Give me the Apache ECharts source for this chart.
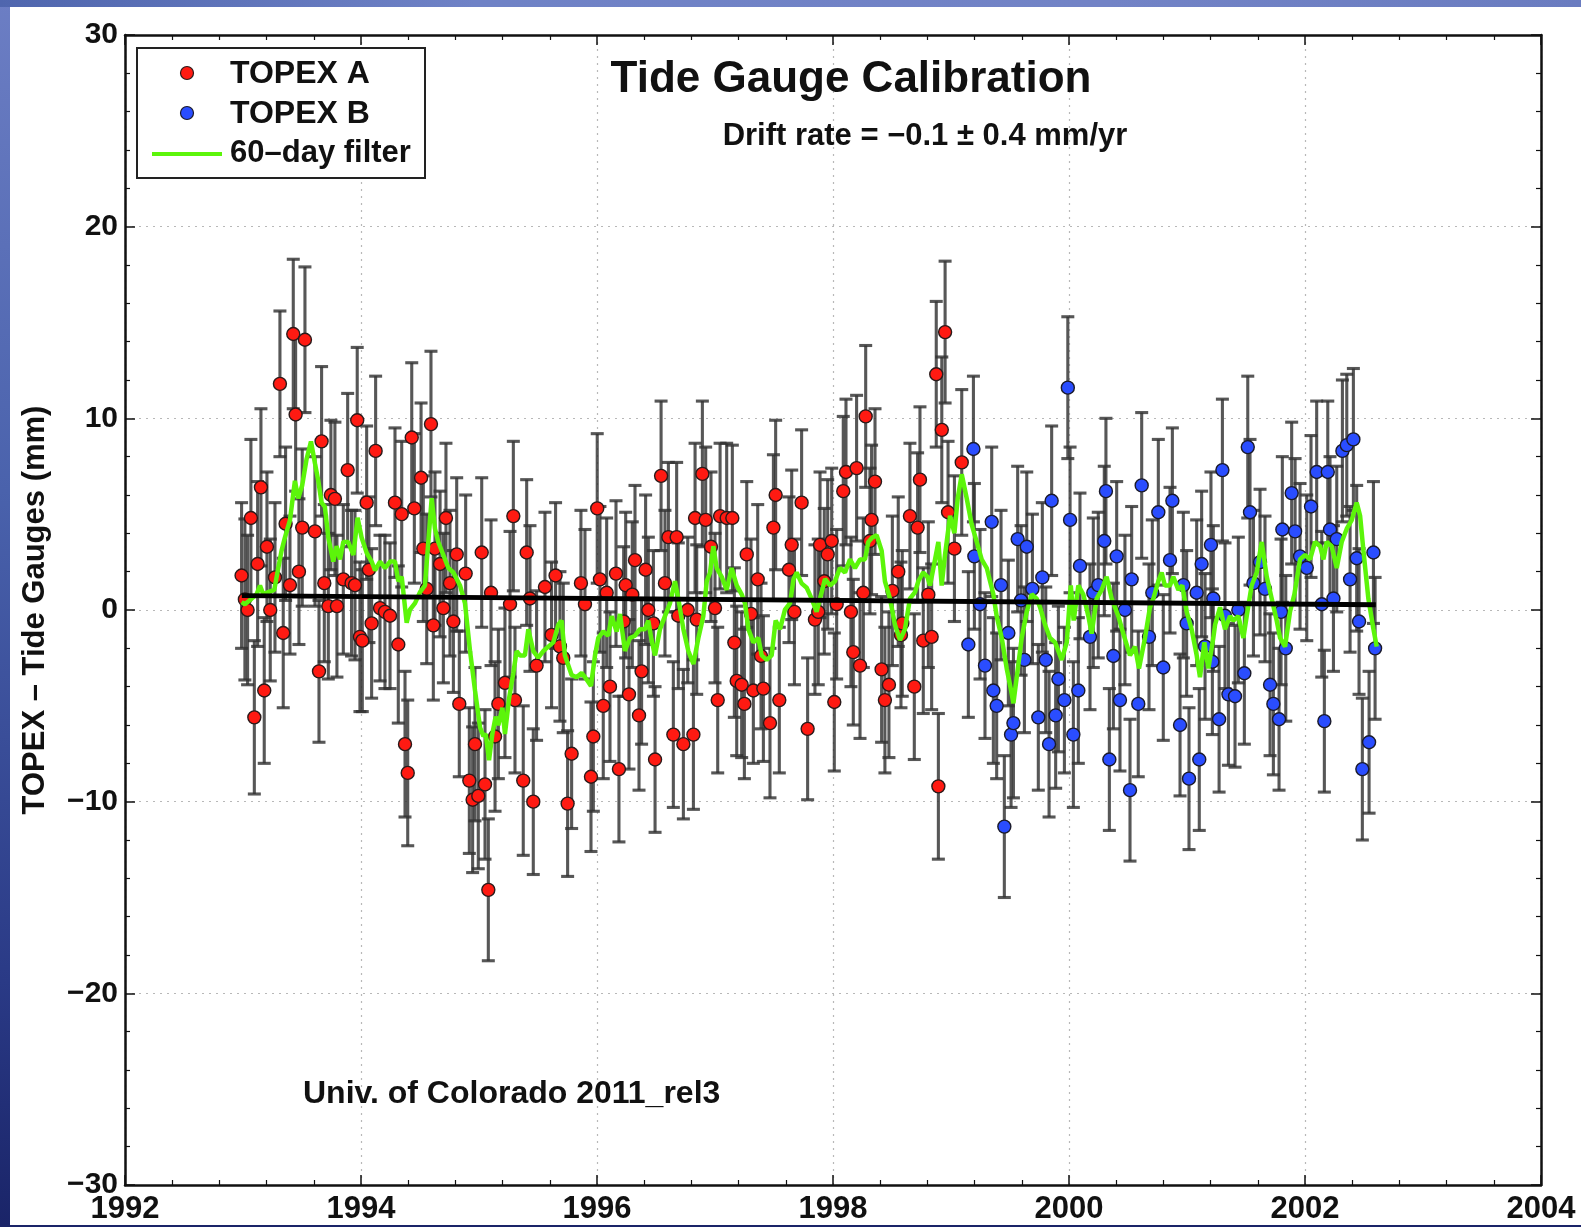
<!DOCTYPE html>
<html>
<head>
<meta charset="utf-8">
<title>Tide Gauge Calibration</title>
<script src="https://cdn.jsdelivr.net/npm/echarts@6/dist/echarts.min.js"></script>
<style>
  html, body { margin: 0; padding: 0; width: 1581px; height: 1227px; overflow: hidden; }
  body {
    background: linear-gradient(180deg, #6c7ec4 0%, #4a62ac 40%, #2a3a86 80%, #1a2468 100%);
  }
  #frameTop {
    position: absolute; left: 0; top: 0; width: 1581px; height: 7px;
    background: linear-gradient(90deg, #4f66ae 0%, #6f82c6 30%, #7283c6 70%, #6a7cc0 100%);
  }
  #chart {
    position: absolute; left: 10px; top: 7px; width: 1571px; height: 1218px;
    background: #ffffff;
  }
</style>
</head>
<body>
<div id="frameTop"></div>
<div id="chart"></div>
<script>
// Axis ticks
const yearTicks = [1992, 1994, 1996, 1998, 2000, 2002, 2004];
const mmTicks = [-30, -20, -10, 0, 10, 20, 30];

// TOPEX side A cycles: [decimal year, TOPEX - tide gauge (mm), 1-sigma (mm)]
const topexA = [
  [1992.988,1.8,3.8],[1993.016,0.55,4.2],[1993.039,0.0,3.9],[1993.067,4.8,4.1],[1993.096,-5.6,4.0],
  [1993.124,2.4,4.3],[1993.152,6.4,4.1],[1993.180,-4.2,3.8],[1993.203,3.3,3.9],[1993.231,0.0,3.7],
  [1993.271,1.7,3.9],[1993.313,11.8,3.8],[1993.341,-1.2,3.9],[1993.361,4.5,4.0],[1993.398,1.3,3.6],
  [1993.426,14.4,3.9],[1993.446,10.2,4.0],[1993.474,2.0,3.8],[1993.502,4.3,4.1],[1993.525,14.1,3.8],
  [1993.610,4.1,3.9],[1993.644,-3.2,3.7],[1993.666,8.8,3.9],[1993.689,1.4,4.1],[1993.723,0.2,3.8],
  [1993.745,6.0,3.9],[1993.779,5.8,4.0],[1993.796,0.2,3.7],[1993.850,1.6,3.9],[1993.887,7.3,4.0],
  [1993.920,1.4,3.8],[1993.949,1.3,3.9],[1993.968,9.9,3.8],[1993.991,-1.4,3.9],[1994.011,-1.6,3.7],
  [1994.048,5.6,4.0],[1994.067,2.1,3.8],[1994.090,-0.7,3.9],[1994.124,8.3,3.9],[1994.161,0.1,3.8],
  [1994.203,-0.1,4.0],[1994.246,-0.3,3.8],[1994.288,5.6,3.9],[1994.316,-1.8,4.1],[1994.345,5.0,3.8],
  [1994.373,-7.0,3.8],[1994.396,-8.5,3.8],[1994.430,9.0,3.9],[1994.452,5.3,3.9],[1994.509,6.9,3.9],
  [1994.528,3.2,3.8],[1994.557,1.1,3.9],[1994.593,9.7,3.8],[1994.613,-0.8,3.9],[1994.627,3.2,4.0],
  [1994.670,2.4,3.8],[1994.698,0.1,3.9],[1994.720,4.8,3.9],[1994.754,1.4,3.8],[1994.783,-0.6,3.7],
  [1994.811,2.9,4.0],[1994.833,-4.9,3.8],[1994.887,1.9,4.1],[1994.918,-8.9,3.8],[1994.946,-9.9,3.8],
  [1994.966,-7.0,4.0],[1994.994,-9.7,3.8],[1995.023,3.0,3.9],[1995.051,-9.1,3.9],[1995.079,-14.6,3.7],
  [1995.102,0.9,3.8],[1995.136,-6.6,3.9],[1995.164,-4.9,3.9],[1995.220,-3.8,3.9],[1995.263,0.3,3.8],
  [1995.291,4.9,3.9],[1995.305,-4.7,3.8],[1995.375,-8.9,3.9],[1995.404,3.0,3.8],[1995.432,0.6,3.8],
  [1995.460,-10.0,3.8],[1995.488,-2.9,3.9],[1995.559,1.2,3.9],[1995.615,-1.3,3.8],[1995.649,1.8,3.8],
  [1995.686,-1.9,3.9],[1995.714,-2.5,3.9],[1995.751,-10.1,3.8],[1995.785,-7.5,3.9],[1995.864,1.4,3.8],
  [1995.898,0.3,3.9],[1995.949,-8.7,3.9],[1995.969,-6.6,3.9],[1996.002,5.3,3.9],[1996.025,1.6,3.8],
  [1996.053,-5.0,3.8],[1996.082,0.9,3.9],[1996.110,-4.0,3.9],[1996.161,1.9,3.8],[1996.186,-8.3,3.8],
  [1996.226,-0.6,3.9],[1996.243,1.3,3.8],[1996.271,-4.4,3.9],[1996.299,0.8,3.8],[1996.322,2.6,3.9],
  [1996.356,-5.5,3.9],[1996.378,-3.2,3.8],[1996.412,2.1,3.9],[1996.435,0.0,3.8],[1996.478,-0.7,3.8],
  [1996.492,-7.8,3.8],[1996.543,7.0,3.9],[1996.576,1.4,3.8],[1996.605,3.8,3.9],[1996.647,-6.5,3.8],
  [1996.675,3.8,3.9],[1996.689,-0.3,3.8],[1996.732,-7.0,3.9],[1996.769,0.0,3.8],[1996.817,-6.5,3.9],
  [1996.831,4.8,3.9],[1996.845,-0.5,3.9],[1996.893,7.1,3.8],[1996.921,4.7,3.8],[1996.966,3.3,3.9],
  [1997.000,0.1,3.9],[1997.023,-4.7,3.8],[1997.043,4.9,3.8],[1997.099,4.8,3.9],[1997.147,4.8,3.8],
  [1997.164,-1.7,3.9],[1997.184,-3.7,3.9],[1997.226,-3.9,3.8],[1997.249,-4.9,3.9],[1997.269,2.9,3.8],
  [1997.305,-0.2,3.9],[1997.325,-4.2,3.8],[1997.362,1.6,3.9],[1997.390,-2.4,3.8],[1997.410,-4.1,3.8],
  [1997.466,-5.9,3.9],[1997.495,4.3,3.8],[1997.514,6.0,3.9],[1997.545,-4.7,3.8],[1997.627,2.1,3.8],
  [1997.650,3.4,3.9],[1997.673,-0.1,3.8],[1997.734,5.6,3.8],[1997.785,-6.2,3.7],[1997.847,-0.5,3.9],
  [1997.875,-0.1,3.8],[1997.890,3.4,3.8],[1997.926,1.5,3.8],[1997.955,2.9,3.9],[1997.989,3.6,3.8],
  [1998.011,-4.8,3.6],[1998.031,0.3,3.9],[1998.087,6.2,3.9],[1998.110,7.2,3.8],[1998.152,-0.1,3.9],
  [1998.172,-2.2,3.8],[1998.200,7.4,3.8],[1998.229,-2.9,3.8],[1998.257,0.9,3.9],[1998.277,10.1,3.7],
  [1998.313,3.6,3.8],[1998.327,4.7,3.9],[1998.356,6.7,3.8],[1998.412,-3.1,3.8],[1998.440,-4.7,3.8],
  [1998.474,-3.9,3.8],[1998.503,1.0,3.9],[1998.553,2.0,3.9],[1998.576,-1.3,3.8],[1998.587,-0.7,3.8],
  [1998.652,4.9,3.8],[1998.689,-4.0,3.8],[1998.717,4.3,3.9],[1998.737,6.8,3.8],[1998.765,-1.6,3.8],
  [1998.808,0.8,3.8],[1998.836,-1.4,3.8],[1998.875,12.3,3.8],[1998.893,-9.2,3.8],[1998.922,9.4,3.8],
  [1998.950,14.5,3.7],[1998.975,5.1,3.7],[1999.029,3.2,3.8],[1999.091,7.7,3.8]
];

// TOPEX side B cycles: [decimal year, TOPEX - tide gauge (mm), 1-sigma (mm)]
const topexB = [
  [1999.147,-1.8,3.8],[1999.190,8.4,3.8],[1999.198,2.8,3.8],[1999.246,0.3,3.9],[1999.288,-2.9,3.8],
  [1999.345,4.6,3.9],[1999.359,-4.2,3.8],[1999.387,-5.0,3.8],[1999.424,1.3,3.9],[1999.452,-11.3,3.7],
  [1999.486,-1.2,3.8],[1999.509,-6.5,3.8],[1999.529,-5.9,3.9],[1999.565,3.7,3.8],[1999.594,0.5,3.9],
  [1999.622,-2.6,3.8],[1999.642,3.3,3.9],[1999.690,1.1,3.9],[1999.740,-5.6,3.8],[1999.774,1.7,3.9],
  [1999.803,-2.6,3.8],[1999.831,-7.0,3.8],[1999.853,5.7,3.9],[1999.887,-5.5,3.8],[1999.910,-3.6,3.8],
  [1999.961,-4.7,3.8],[1999.990,11.6,3.7],[2000.009,4.7,3.8],[2000.037,-6.5,3.8],[2000.079,-4.2,3.8],
  [2000.093,2.3,3.8],[2000.178,-1.4,3.8],[2000.206,0.9,3.9],[2000.248,1.3,3.8],[2000.299,3.6,3.9],
  [2000.313,6.2,3.8],[2000.342,-7.8,3.7],[2000.376,-2.4,3.8],[2000.404,2.8,3.9],[2000.432,-4.7,3.7],
  [2000.474,0.0,3.9],[2000.517,-9.4,3.7],[2000.531,1.6,3.8],[2000.587,-4.9,3.8],[2000.616,6.5,3.8],
  [2000.678,-1.4,3.8],[2000.706,0.9,3.8],[2000.757,5.1,3.8],[2000.799,-3.0,3.8],[2000.856,2.6,3.8],
  [2000.876,5.7,3.8],[2000.941,-6.0,3.7],[2000.969,1.3,3.8],[2000.997,-0.7,3.8],[2001.017,-8.8,3.7],
  [2001.082,0.9,3.8],[2001.104,-7.8,3.7],[2001.124,2.4,3.8],[2001.153,-1.9,3.8],[2001.203,3.4,3.8],
  [2001.215,-2.7,3.8],[2001.223,0.6,3.8],[2001.272,-5.7,3.8],[2001.300,7.3,3.7],[2001.322,-0.3,3.8],
  [2001.351,-4.4,3.7],[2001.407,-4.5,3.7],[2001.435,0.0,3.8],[2001.486,-3.3,3.7],[2001.515,8.5,3.7],
  [2001.534,5.1,3.8],[2001.563,1.4,3.8],[2001.619,2.5,3.8],[2001.661,1.1,3.8],[2001.704,-3.9,3.7],
  [2001.732,-4.9,3.7],[2001.780,-5.7,3.7],[2001.797,-0.1,3.8],[2001.808,4.2,3.8],[2001.837,-2.0,3.8],
  [2001.887,6.1,3.7],[2001.916,4.1,3.8],[2001.958,2.8,3.8],[2002.015,2.2,3.8],[2002.051,5.4,3.7],
  [2002.099,7.2,3.7],[2002.142,0.3,3.8],[2002.164,-5.8,3.7],[2002.193,7.2,3.7],[2002.212,4.2,3.8],
  [2002.241,0.6,3.8],[2002.269,3.7,3.8],[2002.317,8.3,3.7],[2002.354,8.6,3.7],[2002.382,1.6,3.8],
  [2002.410,8.9,3.7],[2002.438,2.7,3.8],[2002.458,-0.6,3.8],[2002.486,-8.3,3.7],[2002.543,-6.9,3.7],
  [2002.580,3.0,3.7],[2002.594,-2.0,3.7]
];

// 60-day running filter: [decimal year, mm]
const filter60 = [
  [1992.988,0.41],[1993.016,0.30],[1993.073,0.59],[1993.115,0.82],[1993.144,1.28],[1993.172,0.82],
  [1993.214,0.93],[1993.265,1.05],[1993.299,2.19],[1993.327,3.10],[1993.355,3.78],[1993.398,4.69],
  [1993.440,6.74],[1993.468,5.83],[1993.502,6.51],[1993.539,7.88],[1993.576,8.79],[1993.610,7.65],
  [1993.638,6.74],[1993.666,5.60],[1993.694,5.38],[1993.723,3.78],[1993.765,2.53],[1993.793,3.33],
  [1993.822,2.64],[1993.850,3.55],[1993.892,3.55],[1993.935,2.87],[1993.971,4.81],[1994.005,3.78],
  [1994.048,2.98],[1994.090,2.53],[1994.119,2.07],[1994.161,2.53],[1994.203,2.19],[1994.246,2.53],
  [1994.288,2.53],[1994.316,1.50],[1994.345,1.73],[1994.387,-0.66],[1994.415,0.02],[1994.458,0.36],
  [1994.500,0.93],[1994.542,1.28],[1994.599,5.83],[1994.627,4.24],[1994.655,3.55],[1994.698,2.87],
  [1994.740,2.19],[1994.783,1.96],[1994.839,1.28],[1994.881,0.36],[1994.924,-2.14],[1994.966,-4.19],
  [1995.009,-6.13],[1995.037,-6.58],[1995.057,-6.47],[1995.085,-7.84],[1995.113,-6.47],[1995.141,-5.56],
  [1995.164,-6.01],[1995.198,-5.10],[1995.220,-6.47],[1995.254,-4.65],[1995.291,-3.28],[1995.319,-2.14],
  [1995.347,-2.37],[1995.389,-2.37],[1995.418,-1.00],[1995.460,-2.14],[1995.502,-2.48],[1995.545,-2.14],
  [1995.587,-1.91],[1995.630,-1.69],[1995.672,-0.77],[1995.700,-0.55],[1995.728,-2.37],[1995.785,-3.39],
  [1995.827,-3.51],[1995.870,-3.28],[1995.912,-3.62],[1995.949,-3.96],[1995.983,-2.37],[1996.011,-1.46],
  [1996.053,-1.12],[1996.096,-1.34],[1996.124,-0.32],[1996.166,-1.12],[1996.195,-0.21],[1996.237,-2.14],
  [1996.279,-1.46],[1996.322,-1.34],[1996.364,-1.00],[1996.407,-1.00],[1996.435,-0.55],[1996.460,-1.50],
  [1996.492,-2.37],[1996.534,-1.00],[1996.576,-0.32],[1996.619,0.36],[1996.661,1.50],[1996.689,0.59],
  [1996.732,-1.00],[1996.774,-2.14],[1996.817,-2.82],[1996.859,-1.46],[1996.901,-0.32],[1996.930,1.50],
  [1996.958,1.96],[1996.986,3.33],[1997.014,2.19],[1997.057,1.73],[1997.099,1.05],[1997.141,2.19],
  [1997.184,1.28],[1997.226,0.82],[1997.254,0.36],[1997.283,-1.00],[1997.325,-1.69],[1997.367,-1.46],
  [1997.396,-2.37],[1997.438,-2.60],[1997.480,-2.37],[1997.514,-0.55],[1997.551,-1.00],[1997.593,0.02],
  [1997.636,0.36],[1997.665,1.60],[1997.692,1.96],[1997.734,1.39],[1997.777,1.16],[1997.819,0.59],
  [1997.861,-0.09],[1997.904,0.93],[1997.932,1.62],[1997.974,1.28],[1998.017,1.50],[1998.059,2.19],
  [1998.102,1.96],[1998.144,2.64],[1998.186,2.19],[1998.229,2.64],[1998.271,2.64],[1998.299,3.55],
  [1998.333,3.78],[1998.370,3.90],[1998.412,3.10],[1998.440,1.50],[1998.483,0.59],[1998.525,-0.77],
  [1998.568,-1.57],[1998.610,-1.00],[1998.652,0.59],[1998.695,0.93],[1998.723,1.50],[1998.765,1.96],
  [1998.800,1.73],[1998.822,1.28],[1998.851,2.19],[1998.893,3.55],[1998.921,1.28],[1998.949,2.87],
  [1998.992,4.92],[1999.029,4.01],[1999.057,5.83],[1999.091,7.08],[1999.133,5.83],[1999.175,4.47],
  [1999.218,3.55],[1999.260,2.64],[1999.303,2.19],[1999.331,1.50],[1999.359,0.82],[1999.387,-0.32],
  [1999.430,-1.46],[1999.472,-3.05],[1999.509,-4.19],[1999.529,-4.87],[1999.557,-3.51],[1999.599,-1.46],
  [1999.642,-0.09],[1999.684,0.82],[1999.726,0.59],[1999.755,0.14],[1999.797,-0.77],[1999.839,-1.46],
  [1999.882,-1.69],[1999.938,-2.60],[1999.981,-1.69],[2000.015,1.28],[2000.040,-0.55],[2000.079,1.28],
  [2000.121,0.82],[2000.164,-0.32],[2000.192,-1.23],[2000.234,0.59],[2000.277,1.05],[2000.319,1.73],
  [2000.362,0.59],[2000.418,-0.32],[2000.460,-1.23],[2000.517,-2.37],[2000.559,-1.91],[2000.593,-3.05],
  [2000.644,-1.46],[2000.686,0.14],[2000.715,0.59],[2000.757,1.50],[2000.785,1.96],[2000.813,1.28],
  [2000.856,1.28],[2000.884,1.73],[2000.927,1.05],[2000.960,1.28],[2000.997,-0.09],[2001.039,-1.00],
  [2001.082,-2.37],[2001.110,-3.51],[2001.147,-1.69],[2001.181,-3.05],[2001.223,-1.46],[2001.238,-0.77],
  [2001.280,0.14],[2001.322,-1.00],[2001.365,-0.32],[2001.393,-0.55],[2001.435,-0.32],[2001.478,-1.46],
  [2001.506,-0.32],[2001.548,1.28],[2001.591,1.96],[2001.633,3.55],[2001.676,1.73],[2001.718,0.59],
  [2001.760,-0.55],[2001.789,-1.46],[2001.831,-1.91],[2001.873,-0.09],[2001.910,0.82],[2001.958,2.64],
  [2002.000,2.87],[2002.043,2.64],[2002.085,3.55],[2002.128,3.33],[2002.156,2.64],[2002.184,3.55],
  [2002.226,3.33],[2002.269,2.19],[2002.311,3.55],[2002.354,4.24],[2002.396,4.69],[2002.438,5.60],
  [2002.467,4.92],[2002.495,3.10],[2002.537,0.59],[2002.580,-1.00],[2002.608,-1.91]
];

// Least-squares drift line end points: [decimal year, mm]
const driftLine = [[1992.99, 0.75], [2002.60, 0.28]];

const FONT = '"Liberation Sans", Arial, Helvetica, sans-serif';
const INK = '#111111';
const minus = v => String(v).replace('-', '\u2212');

const chart = echarts.init(document.getElementById('chart'), null, { renderer: 'canvas' });

// Vertical error bar with caps, placed through the axes
function errorBar(params, api) {
  const x = api.value(0), y = api.value(1), e = api.value(2);
  const top = api.coord([x, y + e]);
  const bot = api.coord([x, y - e]);
  const hw = 6.5;
  const style = { stroke: 'rgba(50,50,50,0.82)', lineWidth: 3.1 };
  return {
    type: 'group',
    children: [
      { type: 'line', shape: { x1: top[0], y1: top[1], x2: bot[0], y2: bot[1] }, style },
      { type: 'line', shape: { x1: top[0] - hw, y1: top[1], x2: top[0] + hw, y2: top[1] }, style },
      { type: 'line', shape: { x1: bot[0] - hw, y1: bot[1], x2: bot[0] + hw, y2: bot[1] }, style }
    ]
  };
}

const axisCommon = {
  axisLine: { show: true, onZero: false, lineStyle: { color: INK, width: 2.5 } },
  axisTick: { show: true, inside: true, length: 10, lineStyle: { color: INK, width: 1.5 } },
  minorTick: { show: true, splitNumber: 5, length: 5, lineStyle: { color: INK, width: 1.2 } }
};

const gridLine = { show: true, lineStyle: { color: '#b8b8b8', width: 1.2, type: [2, 5] } };

const option = {
  animation: false,
  backgroundColor: '#ffffff',
  grid: { left: 115, top: 28, right: 40, bottom: 39, containLabel: false },
  xAxis: [
    Object.assign({
      type: 'value', min: yearTicks[0], max: yearTicks[yearTicks.length - 1], interval: 2,
      position: 'bottom',
      axisLabel: { color: INK, fontFamily: FONT, fontWeight: 'bold', fontSize: 31, margin: 9,
                   formatter: v => String(v) },
      splitLine: gridLine
    }, axisCommon),
    Object.assign({
      type: 'value', min: yearTicks[0], max: yearTicks[yearTicks.length - 1], interval: 2,
      position: 'top', axisLabel: { show: false }, splitLine: { show: false }
    }, axisCommon)
  ],
  yAxis: [
    Object.assign({
      type: 'value', min: mmTicks[0], max: mmTicks[mmTicks.length - 1], interval: 10,
      position: 'left',
      name: 'TOPEX \u2013 Tide Gauges (mm)', nameLocation: 'middle', nameGap: 74,
      nameTextStyle: { color: INK, fontFamily: FONT, fontWeight: 'bold', fontSize: 31 },
      axisLabel: { color: INK, fontFamily: FONT, fontWeight: 'bold', fontSize: 30, margin: 7, formatter: minus },
      splitLine: gridLine
    }, axisCommon),
    Object.assign({
      type: 'value', min: mmTicks[0], max: mmTicks[mmTicks.length - 1], interval: 10,
      position: 'right', axisLabel: { show: false }, splitLine: { show: false }
    }, axisCommon)
  ],
  series: [
    {
      name: 'bars', type: 'custom', renderItem: errorBar, z: 2,
      data: topexA.concat(topexB), encode: { x: 0, y: 1 }, silent: true, clip: false
    },
    {
      name: 'TOPEX A', type: 'scatter', z: 3, symbol: 'circle', symbolSize: 13,
      data: topexA.map(d => [d[0], d[1]]),
      itemStyle: { color: '#ff1a12', borderColor: '#2a1a1a', borderWidth: 1.4, opacity: 1 }
    },
    {
      name: 'TOPEX B', type: 'scatter', z: 3, symbol: 'circle', symbolSize: 13,
      data: topexB.map(d => [d[0], d[1]]),
      itemStyle: { color: '#2a4dff', borderColor: '#1a1a2a', borderWidth: 1.4, opacity: 1 }
    },
    {
      name: '60-day filter', type: 'line', z: 4, showSymbol: false, symbol: 'none',
      data: filter60, lineStyle: { color: '#5cf50a', width: 4.5 }
    },
    {
      name: 'drift', type: 'line', z: 5, showSymbol: false, symbol: 'none',
      data: driftLine, lineStyle: { color: '#000000', width: 5 }
    }
  ],
  graphic: [
    // legend box
    { type: 'rect', left: 126, top: 40, z: 100,
      shape: { width: 288, height: 130 },
      style: { fill: '#ffffff', stroke: '#222222', lineWidth: 2 } },
    { type: 'circle', z: 101, shape: { cx: 177, cy: 66, r: 6.5 },
      style: { fill: '#ff1a12', stroke: '#2a1a1a', lineWidth: 1.2 } },
    { type: 'circle', z: 101, shape: { cx: 177, cy: 106, r: 6.5 },
      style: { fill: '#2a4dff', stroke: '#1a1a2a', lineWidth: 1.2 } },
    { type: 'line', z: 101, shape: { x1: 142, y1: 147, x2: 212, y2: 147 },
      style: { stroke: '#5cf50a', lineWidth: 4 } },
    { type: 'text', z: 101, left: 220, top: 51,
      style: { text: 'TOPEX A', fill: INK, font: 'bold 32px ' + FONT } },
    { type: 'text', z: 101, left: 220, top: 91,
      style: { text: 'TOPEX B', fill: INK, font: 'bold 32px ' + FONT } },
    { type: 'text', z: 101, left: 220, top: 131,
      style: { text: '60\u2013day filter', fill: INK, font: 'bold 31px ' + FONT } },
    // titles and notes
    { type: 'text', z: 101, x: 841, y: 73,
      style: { text: 'Tide Gauge Calibration', fill: INK, font: 'bold 44px ' + FONT,
               textAlign: 'center', textVerticalAlign: 'middle' } },
    { type: 'text', z: 101, x: 915, y: 129,
      style: { text: 'Drift rate = \u22120.1 \u00b1 0.4 mm/yr', fill: INK, font: 'bold 31px ' + FONT,
               textAlign: 'center', textVerticalAlign: 'middle' } },
    { type: 'text', z: 101, x: 293, y: 1087,
      style: { text: 'Univ. of Colorado 2011_rel3', fill: INK, font: 'bold 32px ' + FONT,
               textAlign: 'left', textVerticalAlign: 'middle' } }
  ]
};

chart.setOption(option);
</script>
</body>
</html>
